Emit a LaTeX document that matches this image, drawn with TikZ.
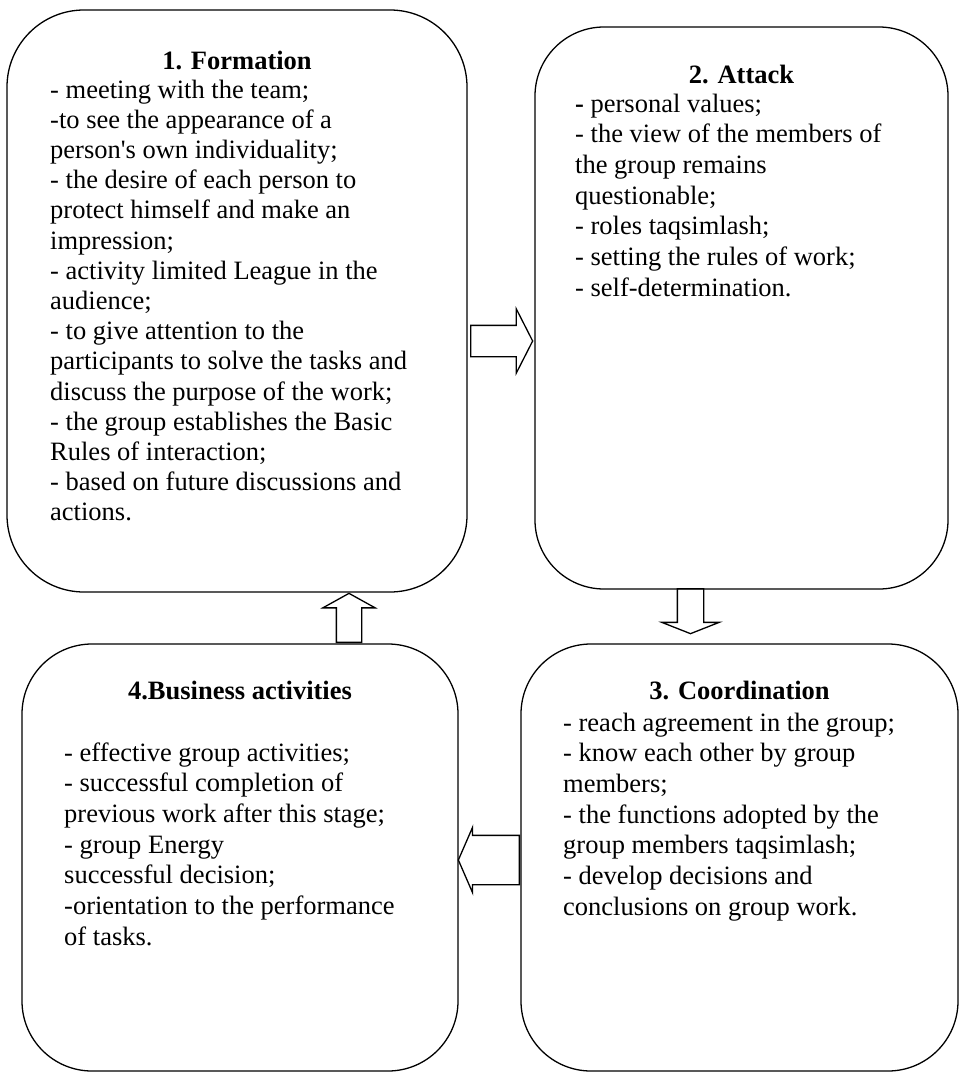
\documentclass[tikz,border=0pt]{standalone}
\usepackage{fontspec}
\setmainfont{Liberation Serif}
\usetikzlibrary{shapes.arrows}

\begin{document}
\begin{tikzpicture}[box/.style={draw, line width=1.3pt, rectangle, inner sep=0pt}, head/.style={font=\fontsize{26.5pt}{30.5pt}\selectfont\bfseries, inner sep=0pt, anchor=base}, body/.style={font=\fontsize{26.5pt}{#1}\selectfont, align=left, inner sep=0pt, anchor=base west}, blockarrow/.style={draw, line width=1.3pt, single arrow, inner xsep=0pt, anchor=tail}]
  \useasboundingbox (0pt, 0pt) rectangle (959pt, -1073pt);
  \draw (237.0pt, -301.0pt)node[box, rounded corners=77pt, minimum width=460pt, minimum height=582pt](1){};
  \draw (741.5pt, -308.0pt)node[box, rounded corners=69pt, minimum width=413pt, minimum height=562pt](2){};
  \draw (739.5pt, -857.5pt)node[box, rounded corners=70pt, minimum width=437pt, minimum height=427pt](3){};
  \draw (240.0pt, -857.5pt)node[box, rounded corners=70pt, minimum width=436pt, minimum height=427pt](4){};

  % body nodes sit on the baseline of their last line
  \draw (237.0pt, -70.0pt)node[head](h1){1. Formation};
  \draw (50.0pt, -520.8pt)node[body=30.2pt](t1){- meeting with the team;\\-to see the appearance of a\\person\textquotesingle s own individuality;\\- the desire of each person to\\protect himself and make an\\impression;\\- activity limited League in the\\audience;\\- to give attention to the\\participants to solve the tasks and\\discuss the purpose of the work;\\- the group establishes the Basic\\Rules of interaction;\\- based on future discussions and\\actions.};

  \draw (741.5pt, -84.0pt)node[head](h2){2. Attack};
  \draw (575.0pt, -296.2pt)node[body=30.7pt](t2){{\bfseries -} personal values;\\- the view of the members of\\the group remains\\questionable;\\- roles taqsimlash;\\- setting the rules of work;\\- self-determination.};

  \draw (739.5pt, -699.0pt)node[head](h3){3. Coordination};
  \draw (563.0pt, -915.2pt)node[body=30.7pt](t3){- reach agreement in the group;\\- know each other by group\\members;\\- the functions adopted by the\\group members taqsimlash;\\- develop decisions and\\conclusions on group work.};

  \draw (240.0pt, -699.0pt)node[head](h4){4.Business activities};
  \draw (64.0pt, -945.2pt)node[body=30.7pt](t4){- effective group activities;\\- successful completion of\\previous work after this stage;\\- group Energy\\successful decision;\\-orientation to the performance\\of tasks.};

  % block arrows between the stages
  \draw (470.0pt, -341.0pt)node[blockarrow, minimum height=62pt, inner ysep=15pt, single arrow head extend=16.5pt, single arrow tip angle=126](a12){};
  \draw (690.5pt, -588.0pt)node[blockarrow, rotate=-90, minimum height=45pt, inner ysep=12.5pt, single arrow head extend=15.5pt, single arrow tip angle=137](a23){};
  \draw (520.0pt, -860.0pt)node[blockarrow, rotate=180, minimum height=61pt, inner ysep=24pt, single arrow head extend=8pt, single arrow tip angle=133](a34){};
  \draw (349.0pt, -643.0pt)node[blockarrow, rotate=90, minimum height=49pt, inner ysep=12pt, single arrow head extend=13.5pt, single arrow tip angle=122](a41){};
\end{tikzpicture}
\end{document}
